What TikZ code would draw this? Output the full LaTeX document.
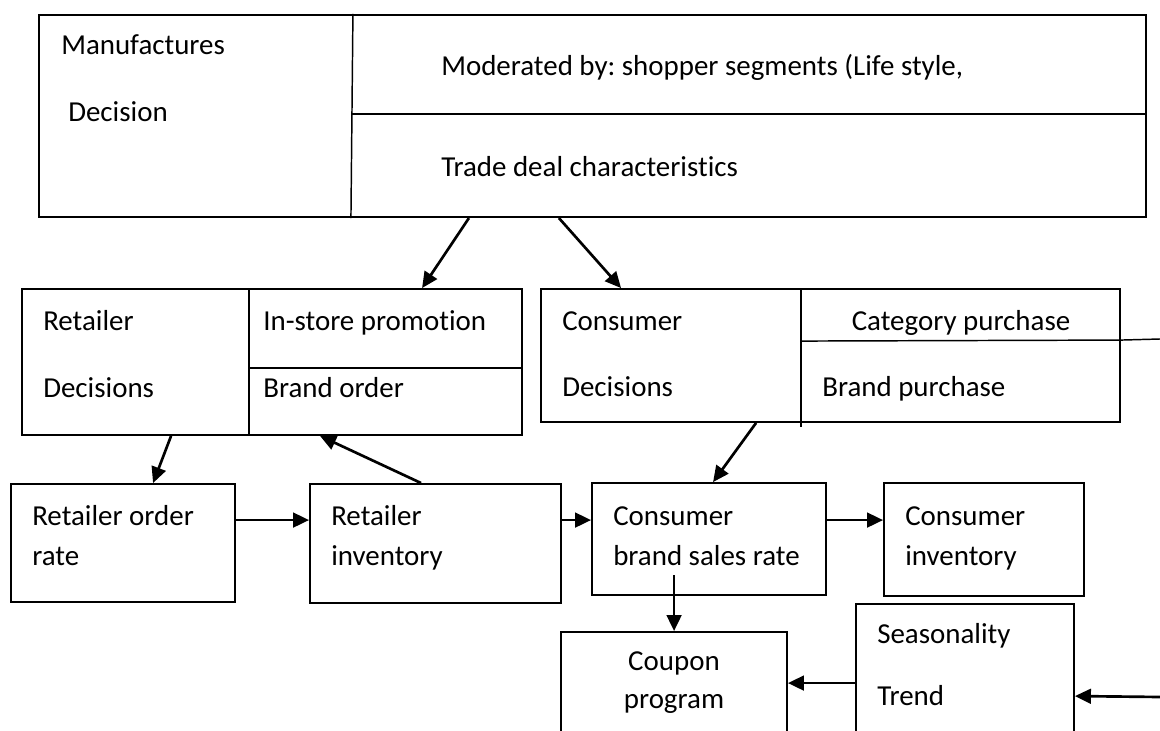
\documentclass[tikz,border=0pt]{standalone}
\usepackage{fontspec}
\setmainfont{Carlito}[Ligatures=NoCommon]
\frenchspacing
\usetikzlibrary{arrows.meta,fit,calc}

\begin{document}
\begin{tikzpicture}[x=0.75pt,y=-0.75pt,
  box/.style={draw, line width=1.4pt, inner sep=0pt},
  outerbox/.style={draw, line width=1.6pt, inner sep=0pt},
  div/.style={line width=1.1pt},
  arr/.style={line width=2pt, -{Triangle[length=12pt,width=11pt]}},
  txt/.style={anchor=base west, inner sep=0pt, font=\fontsize{21.7}{26}\selectfont},
  ctxt/.style={anchor=base, inner sep=0pt, font=\fontsize{21.7}{26}\selectfont}]

\useasboundingbox (0,0) rectangle (1160,731);
\clip (0,0) rectangle (1160,731);

% manufacturer decision block
\node[outerbox, fit={(39,15) (1146,217)}] (md) {};
\draw[div] ($(md.north west)+(315,0)$) coordinate (mdtop) -- ($(md.south west)+(313,0)$) coordinate (mdbot);
\draw[div] ($(md.north west)+(314,100)$) -- ($(md.north east)+(0,100)$);
\node[txt] (manuf) at (61,55) {Manufactures};
\node[txt] (mdec) at (68,122) {Decision};
\node[txt] (moder) at (441,76) {Moderated by: shopper segments (Life style,};
\node[txt] (trade) at (441,176) {Trade deal characteristics};

% retailer decisions block
\node[box, fit={(22,289) (522,435)}] (rd) {};
\draw[div] ($(rd.north west)+(228,0)$) -- ($(rd.south west)+(228,0)$);
\draw[div] ($(rd.north west)+(228,80)$) -- ($(rd.north east)+(0,80)$);
\node[txt] (rdt1) at (43,330) {Retailer};
\node[txt] (rdt2) at (43,397) {Decisions};
\node[txt] (rdt3) at (263,330) {In-store promotion};
\node[txt] (rdt4) at (263,397) {Brand order};

% consumer decisions block
\node[box, fit={(541,289) (1120,422)}] (cd) {};
\draw[div] ($(cd.north west)+(261,1)$) -- ($(cd.south west)+(261,4)$);
\draw[div] ($(cd.north west)+(261,53)$) -- ($(cd.north east)+(0,52)$) coordinate (cdright);
\coordinate (cdout) at (1160,339);
\draw[div] (cdright) -- (cdout);
\node[txt] (cdt1) at (562,330) {Consumer};
\node[txt] (cdt2) at (562,396) {Decisions};
\node[ctxt] (cdt3) at (961,330) {Category purchase};
\node[txt] (cdt4) at (822,396) {Brand purchase};

% flow row
\node[box, fit={(11,484) (235,602)}] (ror) {};
\node[txt] (rort1) at (32,525) {Retailer order};
\node[txt] (rort2) at (32,565) {rate};

\node[box, fit={(310,484) (561,603)}] (rinv) {};
\node[txt] (rinvt1) at (331,525) {Retailer};
\node[txt] (rinvt2) at (331,565) {inventory};

\node[box, fit={(592,483) (826,595)}] (cbsr) {};
\node[txt] (cbsrt1) at (613,525) {Consumer};
\node[txt] (cbsrt2) at (613,565) {brand sales rate};

\node[box, fit={(884,483) (1084,596)}] (ci) {};
\node[txt] (cit1) at (905,525) {Consumer};
\node[txt] (cit2) at (905,565) {inventory};

% lower blocks, running past the lower edge
\node[box, fit={(561,632) (787,770)}] (coupon) {};
\node[ctxt] (coupt1) at (674,670) {Coupon};
\node[ctxt] (coupt2) at (674,708) {program};

\node[box, fit={(856,604) (1074,770)}] (sea) {};
\node[txt] (seat1) at (877,643) {Seasonality};
\node[txt] (seat2) at (877,705) {Trend};

% connectors
\draw[arr] ($(md.south west)+(431,0)$) -- ($(rd.north west)+(401,0)$);
\draw[arr] ($(md.south west)+(521,0)$) -- ($(cd.north west)+(81,0)$);
\draw[arr] ($(rd.south west)+(150,0)$) -- ($(ror.north west)+(143,0)$);
\draw[arr] ($(rinv.north west)+(112,0)$) -- ($(rd.south west)+(299,0)$);
\draw[arr] ($(cd.south west)+(216,0)$) -- ($(cbsr.north west)+(122,0)$);
\draw[arr] ($(ror.north east)+(0,37)$) -- ($(rinv.north west)+(0,37)$);
\draw[arr] ($(rinv.north east)+(0,37)$) -- ($(cbsr.north west)+(0,38)$);
\draw[arr] ($(cbsr.north east)+(0,38)$) -- ($(ci.north west)+(0,38)$);
\draw[arr] ($(cbsr.north west)+(83,93)$) -- ($(coupon.north west)+(114,0)$);
\draw[arr] ($(sea.north west)+(0,80)$) -- ($(coupon.north east)+(0,52)$);
\coordinate (feedin) at (1160,697);
\draw[arr] (feedin) -- ($(sea.north east)+(0,93)$);

\end{tikzpicture}
\end{document}
